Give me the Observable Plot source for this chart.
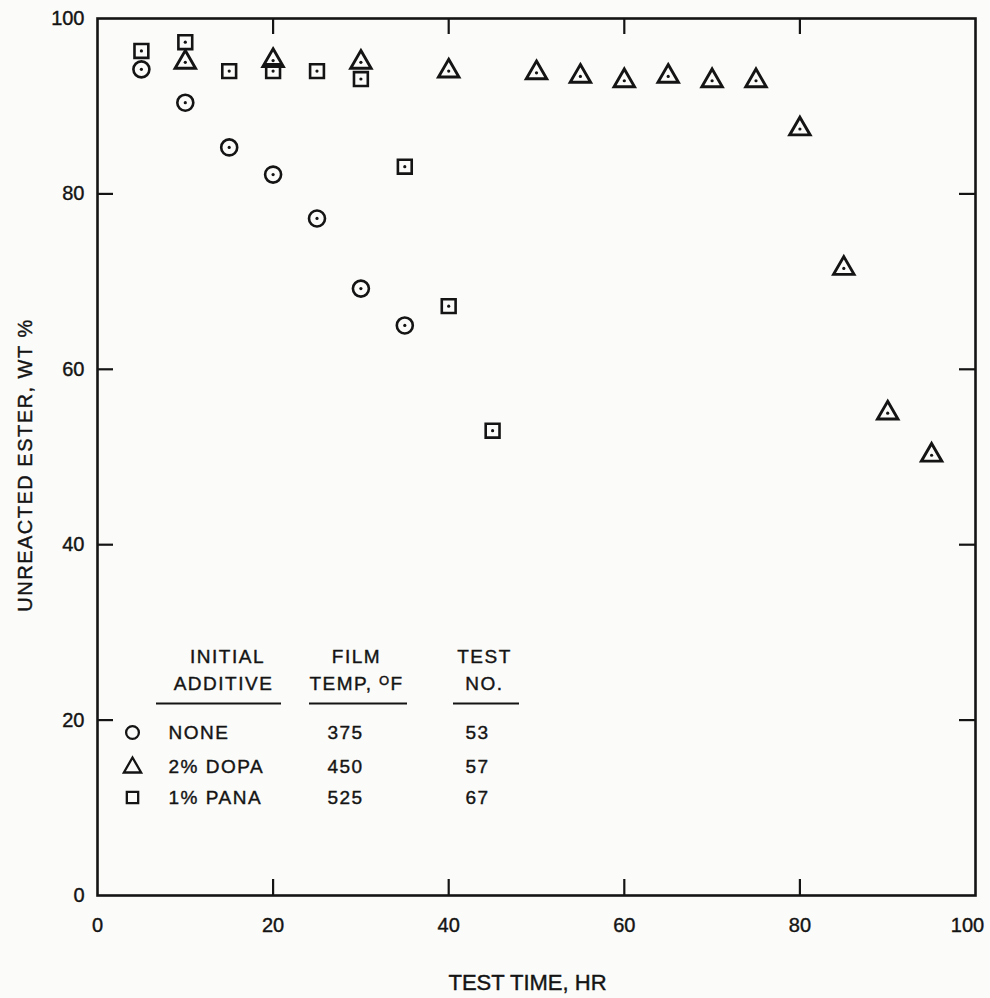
<!DOCTYPE html>
<html>
<head>
<meta charset="utf-8">
<script src="https://cdn.jsdelivr.net/npm/d3@7"></script>
<script src="https://cdn.jsdelivr.net/npm/@observablehq/plot@0.6"></script>
<style>
  html, body { margin: 0; padding: 0; background: #fbfbf9; }
  #chart { width: 990px; height: 998px; }
  g[aria-label="text"] text { letter-spacing: 1.5px; }
  svg text { stroke: #141414; stroke-width: 0.4px; }
</style>
</head>
<body>
<div id="chart"></div>
<script>
// ---- data ----
const xTicks = [0, 20, 40, 60, 80, 100];
const yTicks = [0, 20, 40, 60, 80, 100];
const innerTicks = [20, 40, 60, 80];

const noneTime  = [5, 10, 15, 20, 25, 30, 35];
const noneEster = [94.2, 90.4, 85.3, 82.2, 77.2, 69.2, 65.0];

const dopaTime  = [10, 20, 30, 40, 50, 55, 60, 65, 70, 75, 80, 85, 90, 95];
const dopaEster = [95.0, 95.2, 95.0, 94.0, 93.8, 93.4, 92.9, 93.4, 92.9, 92.9, 87.4, 71.5, 55.0, 50.2];

const panaTime  = [5, 10, 15, 20, 25, 30, 35, 40, 45];
const panaEster = [96.3, 97.3, 94.0, 94.0, 94.0, 93.1, 83.1, 67.2, 53.0];

const legendSymbols  = ["circle", "triangle", "square"];
const legendAdditive = ["NONE", "2% DOPA", "1% PANA"];
const legendTemp     = ["375", "450", "525"];
const legendTest     = ["53", "57", "67"];
const headerLine1    = ["INITIAL", "FILM", "TEST"];
const headerLine2    = ["ADDITIVE", "TEMP, \u1D3CF", "NO."];

const xTitle = "TEST TIME, HR";
const yTitle = "UNREACTED ESTER, WT %";

// ---- build ----
const toRows = (t, v) => t.map((d, i) => ({time: d, ester: v[i]}));
const none = toRows(noneTime, noneEster);
const dopa = toRows(dopaTime, dopaEster);
const pana = toRows(panaTime, panaEster);

const ink = "#141414";
const sans = "'Liberation Sans', Arial, Helvetica, sans-serif";

const W = 990, H = 998, mL = 97, mR = 15, mT = 18, mB = 103;
const fw = W - mL - mR, fh = H - mT - mB, tl = 16;
const txt = {fontFamily: sans, fill: ink, textAnchor: "middle", lineAnchor: "middle"};

const marks = [
  Plot.frame({stroke: ink, strokeWidth: 2.6}),
  Plot.tickX(innerTicks, {x: d => d, insetTop: fh - tl, stroke: ink, strokeWidth: 2.2}),
  Plot.tickX(innerTicks, {x: d => d, insetBottom: fh - tl, stroke: ink, strokeWidth: 2.2}),
  Plot.tickY(innerTicks, {y: d => d, insetRight: fw - tl, stroke: ink, strokeWidth: 2.2}),
  Plot.tickY(innerTicks, {y: d => d, insetLeft: fw - tl, stroke: ink, strokeWidth: 2.2}),
  Plot.axisX(xTicks.slice(0, -1), {tickSize: 0, tickPadding: 22, fontSize: 20, fontFamily: sans, fill: ink, label: null}),
  Plot.axisX(xTicks.slice(-1), {tickSize: 0, tickPadding: 22, dx: -8, fontSize: 20, fontFamily: sans, fill: ink, label: null}),
  Plot.axisY(yTicks, {tickSize: 0, tickPadding: 13, fontSize: 20, fontFamily: sans, fill: ink, label: null}),
  Plot.text([xTitle], {...txt, frameAnchor: "bottom", dx: -9, dy: 87, fontSize: 22}),
  Plot.text([yTitle], {...txt, frameAnchor: "left", rotate: -90, dx: -72, dy: 8, fontSize: 20}),

  // data
  Plot.dot(none, {x: "time", y: "ester", symbol: "circle", r: 8, stroke: ink, strokeWidth: 2.6, fill: "none"}),
  Plot.dot(dopa, {x: "time", y: "ester", symbol: "triangle", r: 7.6, stroke: ink, strokeWidth: 2.9, fill: "none"}),
  Plot.dot(pana, {x: "time", y: "ester", symbol: "square", r: 7.8, stroke: ink, strokeWidth: 2.6, fill: "none"}),
  Plot.dot(none, {x: "time", y: "ester", r: 1.6, fill: ink}),
  Plot.dot(dopa, {x: "time", y: "ester", r: 1.6, fill: ink}),
  Plot.dot(pana, {x: "time", y: "ester", r: 1.6, fill: ink})
];

// legend (positioned relative to the bottom-left frame corner)
const colX = [130, 259, 387];
headerLine1.forEach((h, i) => {
  marks.push(Plot.text([h], {...txt, frameAnchor: "bottom-left", dx: colX[i], dy: -239, fontSize: 19}));
});
headerLine2.forEach((h, i) => {
  marks.push(Plot.text([h], {...txt, frameAnchor: "bottom-left", dx: colX[i] - (i === 0 ? 4 : 0), dy: -212, fontSize: 19}));
});
const ulStart = [59, 212, 356], ulEnd = [184, 310, 422];
ulStart.forEach((s, i) => {
  marks.push(Plot.ruleY([0], {y: () => 0, frameAnchor: "bottom-left", insetLeft: s, insetRight: fw - ulEnd[i], dy: -192, stroke: ink, strokeWidth: 2.2}));
});
const rowDy = [-163, -129, -98];
legendSymbols.forEach((s, i) => {
  marks.push(Plot.dot([s], {frameAnchor: "bottom-left", dx: 35, dy: rowDy[i] + (s === "triangle" ? 1 : 0), symbol: s, r: 6.4, stroke: ink, strokeWidth: 2.3, fill: "none"}));
  marks.push(Plot.text([legendAdditive[i]], {...txt, frameAnchor: "bottom-left", textAnchor: "start", dx: 71, dy: rowDy[i], fontSize: 19}));
  marks.push(Plot.text([legendTemp[i]], {...txt, frameAnchor: "bottom-left", dx: 248, dy: rowDy[i], fontSize: 19}));
  marks.push(Plot.text([legendTest[i]], {...txt, frameAnchor: "bottom-left", dx: 380, dy: rowDy[i], fontSize: 19}));
});

const chart = Plot.plot({
  width: W, height: H,
  marginLeft: mL, marginRight: mR, marginTop: mT, marginBottom: mB,
  x: {domain: [0, 100]},
  y: {domain: [0, 100]},
  style: {background: "#fbfbf9", color: ink, fontFamily: sans, overflow: "visible"},
  marks
});
document.getElementById("chart").appendChild(chart);

// the x-axis title is set without extra letter spacing
d3.select(chart).selectAll('g[aria-label="text"] text').each(function () {
  if (this.textContent === xTitle) this.style.letterSpacing = "0px";
});
</script>
</body>
</html>
